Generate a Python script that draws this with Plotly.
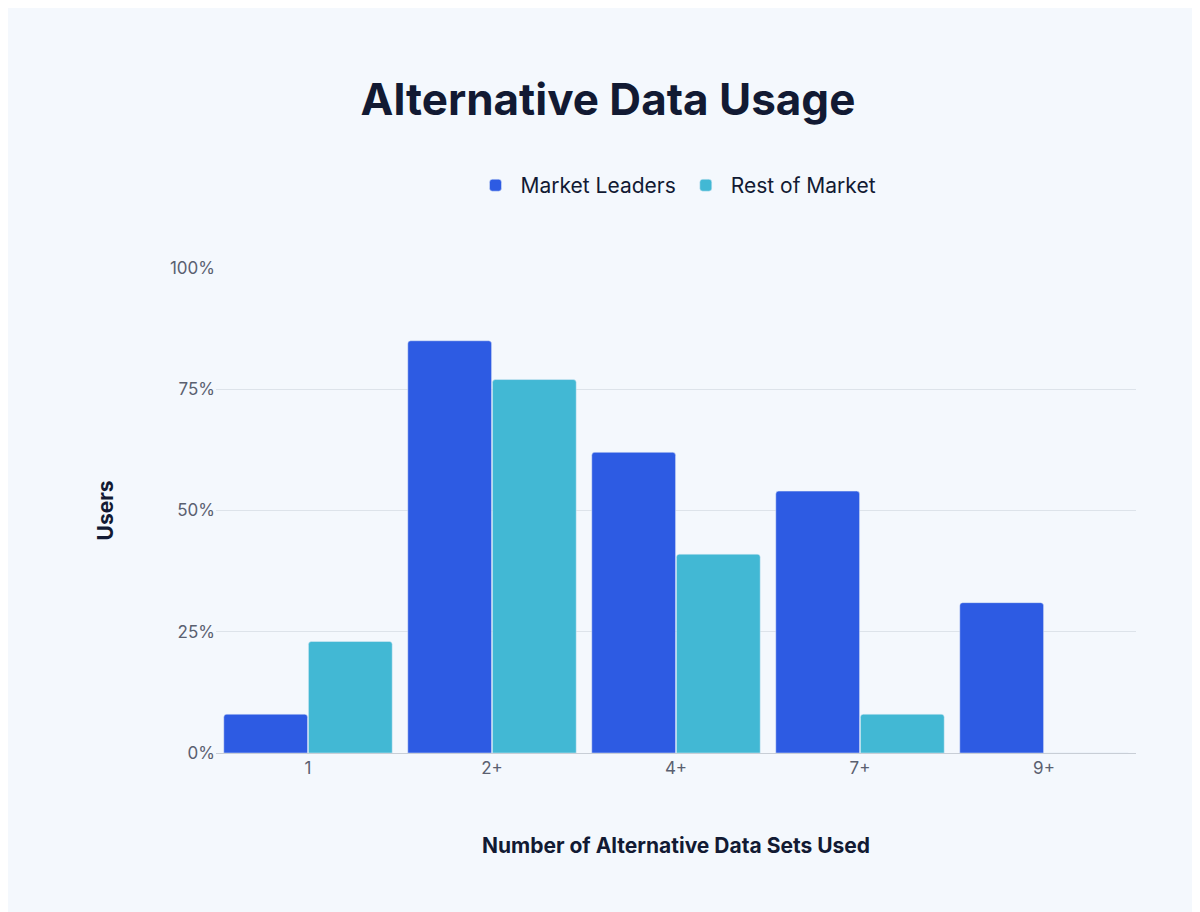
import plotly.graph_objects as go

categories = ["1", "2+", "4+", "7+", "9+"]
market_leaders = [8, 85, 62, 54, 31]
rest_of_market = [23, 77, 41, 8, 0]

fig = go.Figure()
fig.add_bar(x=categories, y=market_leaders, name="Market Leaders", marker_color="#2D5BE3")
fig.add_bar(x=categories, y=rest_of_market, name="Rest of Market", marker_color="#42B8D4")

fig.update_layout(
    width=1200, height=912,
    paper_bgcolor="#F4F8FD", plot_bgcolor="#F4F8FD",
    font=dict(family="Inter", color="#121A33"),
    margin=dict(l=208, r=72, t=260, b=167),
    barmode="group", bargap=0.08, bargroupgap=0.01, barcornerradius=3,
    title=dict(text="<b>Alternative Data Usage</b>", x=0.5, xanchor="center",
               y=0.9, yanchor="middle", font=dict(size=44, color="#121A33")),
    legend=dict(orientation="h", x=0.5, xanchor="center", y=1.17, yanchor="middle",
                font=dict(size=21, color="#121A33"), itemwidth=40, tracegroupgap=60),
    showlegend=True,
)
fig.update_yaxes(range=[0, 100], dtick=25, ticksuffix="%", gridcolor="#DDE3EA",
                 zeroline=False, tickfont=dict(size=17, color="#5A6070"),
                 title=dict(text="<b>Users</b>", font=dict(size=21, color="#121A33"), standoff=50))
fig.update_xaxes(showline=True, linecolor="#C8CED6", tickfont=dict(size=17, color="#5A6070"),
                 title=dict(text="<b>Number of Alternative Data Sets Used</b>",
                            font=dict(size=21, color="#121A33"), standoff=60))
fig.write_html("out.html")
